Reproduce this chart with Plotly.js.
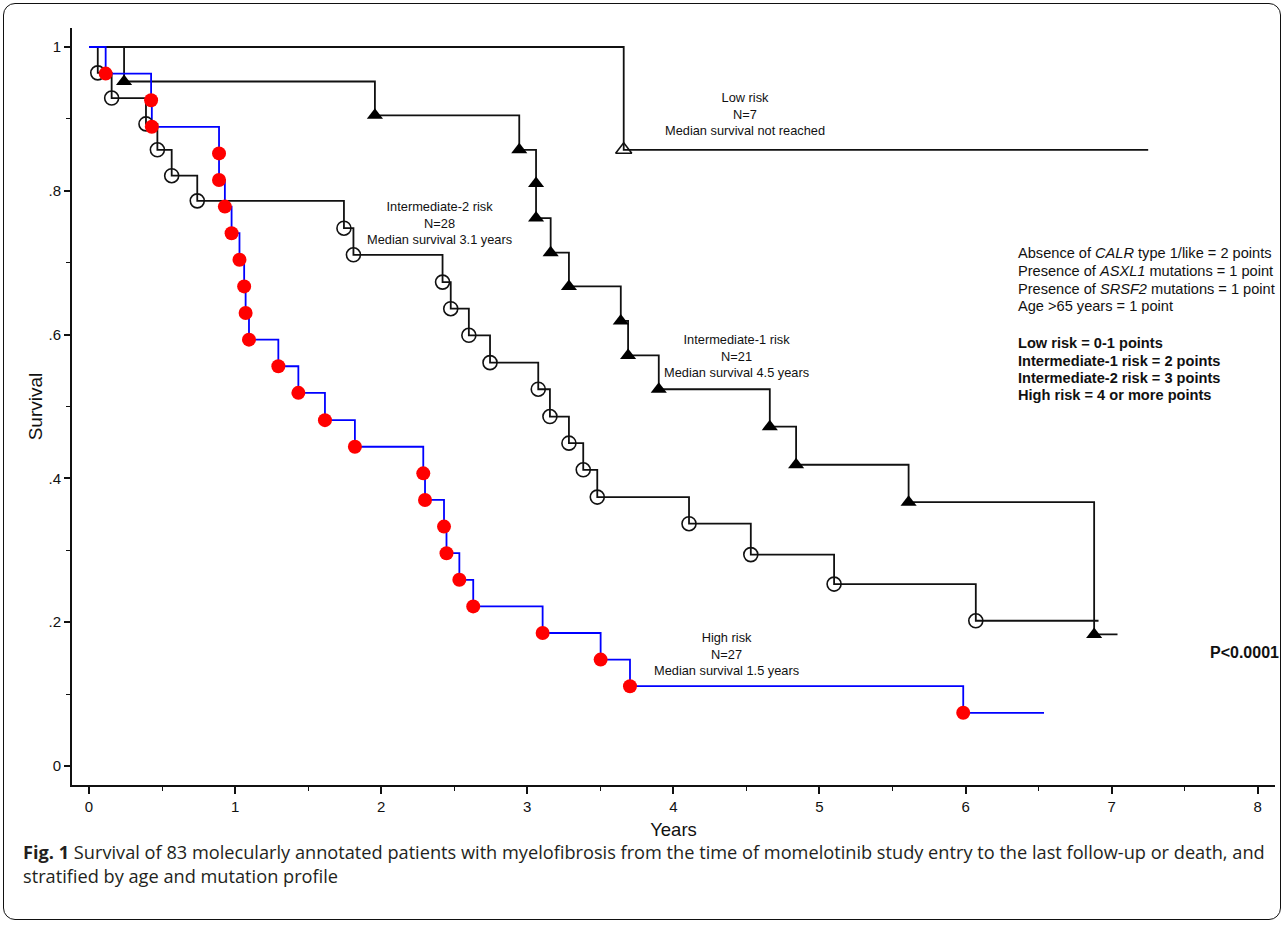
<!DOCTYPE html>
<html>
<head>
<meta charset="utf-8">
<script src="https://cdn.plot.ly/plotly-3.0.1.min.js"></script>
<style>
  html, body { margin: 0; padding: 0; background: #fff; }
  #wrap { position: relative; width: 1285px; height: 927px; }
  #plot { position: absolute; left: 0; top: 0; width: 1285px; height: 927px; }
  #frame { position: absolute; left: 3px; top: 3px; width: 1276px; height: 915px;
           border: 1.8px solid #111; border-radius: 12px; pointer-events: none; }
</style>
</head>
<body>
<div id="wrap">
  <div id="plot"></div>
  <div id="frame"></div>
</div>
<script>
// ---- Data (years, survival proportion) ----
// Low risk (N=7)
const lowTimes = [3.66];
const lowSurv  = [0.857];
const lowEnd   = 7.25;

// Intermediate-1 risk (N=21)
const int1Times = [0.24, 1.957, 2.945, 3.06, 3.06, 3.16, 3.285, 3.64, 3.69, 3.90, 4.66, 4.84, 5.61, 6.88];
const int1Surv  = [0.952, 0.905, 0.857, 0.810, 0.762, 0.714, 0.667, 0.619, 0.571, 0.524, 0.472, 0.419, 0.367, 0.183];
const int1End   = 7.04;

// Intermediate-2 risk (N=28)
const int2Times = [0.06, 0.155, 0.39, 0.468, 0.566, 0.741, 1.745, 1.81, 2.42, 2.476, 2.60, 2.745, 3.075, 3.155, 3.285, 3.383, 3.479, 4.107, 4.53, 5.10, 6.07];
const int2Surv  = [0.964, 0.929, 0.893, 0.857, 0.821, 0.786, 0.748, 0.711, 0.673, 0.636, 0.599, 0.561, 0.524, 0.486, 0.449, 0.412, 0.374, 0.337, 0.294, 0.253, 0.202];
const int2End   = 6.91;

// High risk (N=27)
const highTimes = [0.114, 0.425, 0.43, 0.89, 0.89, 0.93, 0.976, 1.03, 1.062, 1.072, 1.095, 1.296, 1.433, 1.615, 1.82, 2.288, 2.30, 2.43, 2.447, 2.535, 2.63, 3.105, 3.502, 3.703, 5.984];
const highSurv  = [0.963, 0.926, 0.889, 0.852, 0.815, 0.778, 0.741, 0.704, 0.667, 0.630, 0.593, 0.556, 0.519, 0.481, 0.444, 0.407, 0.370, 0.333, 0.296, 0.259, 0.222, 0.185, 0.148, 0.111, 0.074];
const highEnd   = 6.537;

// Axis ticks
const yTickVals = [0, 0.2, 0.4, 0.6, 0.8, 1];
const yTickText = ["0", ".2", ".4", ".6", ".8", "1"];
const xTickVals = [0, 1, 2, 3, 4, 5, 6, 7, 8];
const xTickText = ["0", "1", "2", "3", "4", "5", "6", "7", "8"];

// Scoring key text lines
const keyLines = [
  "Absence of <i>CALR</i> type 1/like = 2 points",
  "Presence of <i>ASXL1</i> mutations = 1 point",
  "Presence of <i>SRSF2</i> mutations = 1 point",
  "Age >65 years = 1 point",
  "<b>Low risk = 0-1 points</b>",
  "<b>Intermediate-1 risk = 2 points</b>",
  "<b>Intermediate-2 risk = 3 points</b>",
  "<b>High risk = 4 or more points</b>"
];

// ---- Build traces ----
const FONT = "Liberation Sans, Arial, Helvetica, sans-serif";

function stepLine(times, surv, end, color, width) {
  return {
    type: "scatter", mode: "lines", hoverinfo: "skip", showlegend: false,
    x: [0].concat(times, [end]),
    y: [1].concat(surv, [surv[surv.length - 1]]),
    line: { shape: "hv", color: color, width: width }
  };
}
function eventMarkers(times, surv, marker) {
  return {
    type: "scatter", mode: "markers", showlegend: false, hoverinfo: "x+y",
    x: times, y: surv, marker: marker
  };
}

const traces = [
  stepLine(lowTimes, lowSurv, lowEnd, "#111", 1.8),
  stepLine(int1Times, int1Surv, int1End, "#111", 1.8),
  stepLine(int2Times, int2Surv, int2End, "#111", 1.8),
  stepLine(highTimes, highSurv, highEnd, "#0000ff", 1.8),
  eventMarkers(lowTimes, lowSurv, { symbol: "triangle-up-open", size: 14, color: "#111", line: { width: 1.6, color: "#111" } }),
  eventMarkers(int1Times, int1Surv, { symbol: "triangle-up", size: 14, color: "#000", line: { width: 0 } }),
  eventMarkers(int2Times, int2Surv, { symbol: "circle-open", size: 14, color: "#111", line: { width: 1.6, color: "#111" } }),
  eventMarkers(highTimes, highSurv, { symbol: "circle", size: 14, color: "#ff0000", line: { width: 0 } })
];

// ---- Layout (pixel geometry: plot area 72..1275 x 28..785) ----
const L = 72, R = 1275, T = 28, B = 785, W = 1285, H = 927;
const px = v => (v - L) / (R - L);       // paper x from pixel
const py = v => (B - v) / (B - T);       // paper y from pixel

const labelFont = { family: FONT, size: 12.8, color: "#111" };

const annotations = [
  { xref: "paper", yref: "paper", x: px(745), y: py(114), xanchor: "center", yanchor: "middle",
    text: "Low risk<br>N=7<br>Median survival not reached", showarrow: false, align: "center", font: labelFont },
  { xref: "paper", yref: "paper", x: px(439), y: py(223), xanchor: "center", yanchor: "middle",
    text: "Intermediate-2 risk<br>N=28<br>Median survival 3.1 years", showarrow: false, align: "center", font: labelFont },
  { xref: "paper", yref: "paper", x: px(736), y: py(356), xanchor: "center", yanchor: "middle",
    text: "Intermediate-1 risk<br>N=21<br>Median survival 4.5 years", showarrow: false, align: "center", font: labelFont },
  { xref: "paper", yref: "paper", x: px(726), y: py(654), xanchor: "center", yanchor: "middle",
    text: "High risk<br>N=27<br>Median survival 1.5 years", showarrow: false, align: "center", font: labelFont },
  { xref: "paper", yref: "paper", x: px(1281), y: py(652), xanchor: "right", yanchor: "middle",
    text: "<b>P<0.0001</b>", showarrow: false, align: "right", font: { family: FONT, size: 16, color: "#111" } },
  { xref: "paper", yref: "paper", x: px(21), y: py(838), xanchor: "left", yanchor: "top",
    text: "<b>Fig. 1</b> Survival of 83 molecularly annotated patients with myelofibrosis from the time of momelotinib study entry to the last follow-up or death, and<br>stratified by age and mutation profile",
    showarrow: false, align: "left", font: { family: "Open Sans, Noto Sans, sans-serif", size: 18.2, color: "#231f20" } }
];
const keyY = [253, 271, 289, 306, 343, 361, 378, 395];
keyLines.forEach((t, i) => {
  annotations.push({ xref: "paper", yref: "paper", x: px(1016), y: py(keyY[i]), xanchor: "left", yanchor: "middle",
    text: t, showarrow: false, align: "left", font: { family: FONT, size: 14.6, color: "#111" } });
});

const layout = {
  width: W, height: H,
  margin: { l: L, r: W - R, t: T, b: H - B, pad: 0 },
  paper_bgcolor: "#fff", plot_bgcolor: "#fff",
  showlegend: false,
  xaxis: {
    range: [-0.1164, 8.118],
    showgrid: false, zeroline: false,
    showline: true, linecolor: "#111", linewidth: 2,
    ticks: "outside", ticklen: 7, tickwidth: 1.5, tickcolor: "#111",
    tickvals: xTickVals, ticktext: xTickText,
    tickfont: { family: FONT, size: 15, color: "#111" },
    minor: { dtick: 0.5, tick0: 0, ticks: "outside", ticklen: 4, tickwidth: 1.3, tickcolor: "#111", showgrid: false },
    title: { text: "Years", font: { family: FONT, size: 18.5, color: "#111" }, standoff: 9 },
    fixedrange: true
  },
  yaxis: {
    range: [-0.0264, 1.0264],
    showgrid: false, zeroline: false,
    showline: true, linecolor: "#111", linewidth: 2,
    ticks: "outside", ticklen: 6, tickwidth: 1.5, tickcolor: "#111",
    tickvals: yTickVals, ticktext: yTickText,
    tickfont: { family: FONT, size: 15, color: "#111" },
    minor: { dtick: 0.1, tick0: 0, ticks: "outside", ticklen: 4, tickwidth: 1.3, tickcolor: "#111", showgrid: false },
    title: { text: "Survival", font: { family: FONT, size: 19, color: "#111" }, standoff: 1 },
    fixedrange: true
  },
  annotations: annotations
};

Plotly.newPlot("plot", traces, layout, { displayModeBar: false });
</script>
</body>
</html>
